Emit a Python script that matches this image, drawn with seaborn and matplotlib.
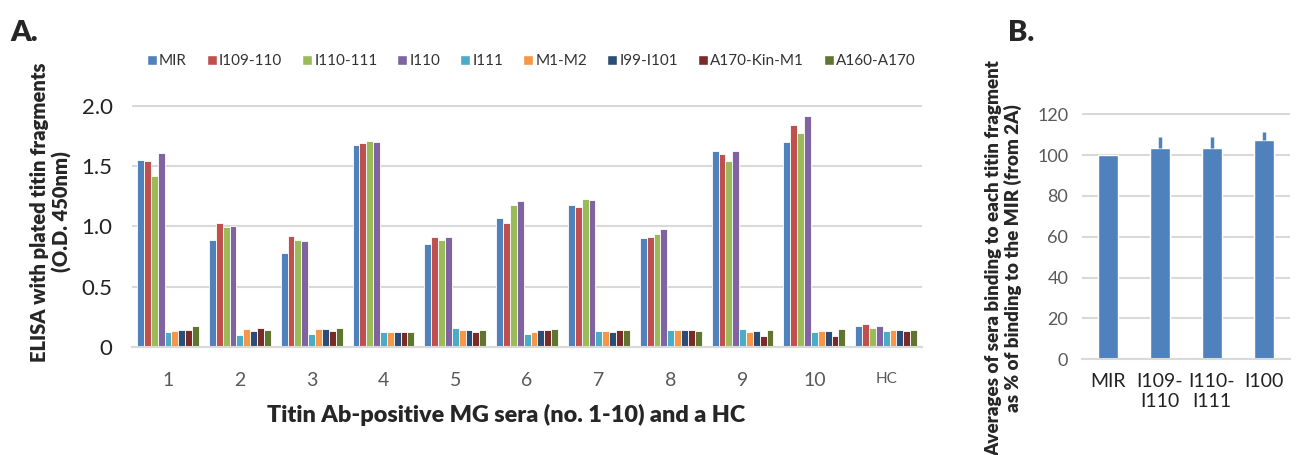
import numpy as np
import pandas as pd
import seaborn as sb
from matplotlib import pyplot as plt
from matplotlib.patches import Patch

sb.set_style('white')
plt.rcParams['font.family'] = ['Lato', 'DejaVu Sans']

# panel A data: ELISA O.D. 450nm
sera = ['1', '2', '3', '4', '5', '6', '7', '8', '9', '10', 'HC']
fragments = ['MIR', 'I109-110', 'I110-111', 'I110', 'I111', 'M1-M2',
             'I99-I101', 'A170-Kin-M1', 'A160-A170']
od = {
    'MIR':         [1.55, 0.89, 0.78, 1.67, 0.85, 1.07, 1.18, 0.90, 1.62, 1.70, 0.17],
    'I109-110':    [1.54, 1.03, 0.92, 1.69, 0.91, 1.03, 1.16, 0.91, 1.60, 1.84, 0.19],
    'I110-111':    [1.42, 0.99, 0.89, 1.71, 0.89, 1.18, 1.23, 0.94, 1.54, 1.77, 0.16],
    'I110':        [1.61, 1.00, 0.88, 1.70, 0.91, 1.21, 1.22, 0.98, 1.62, 1.91, 0.17],
    'I111':        [0.12, 0.10, 0.11, 0.12, 0.16, 0.11, 0.13, 0.14, 0.15, 0.12, 0.13],
    'M1-M2':       [0.13, 0.15, 0.15, 0.12, 0.14, 0.12, 0.13, 0.14, 0.12, 0.13, 0.14],
    'I99-I101':    [0.14, 0.13, 0.15, 0.12, 0.14, 0.14, 0.12, 0.14, 0.13, 0.13, 0.14],
    'A170-Kin-M1': [0.14, 0.16, 0.13, 0.12, 0.12, 0.14, 0.14, 0.14, 0.09, 0.09, 0.13],
    'A160-A170':   [0.17, 0.14, 0.16, 0.12, 0.14, 0.15, 0.14, 0.13, 0.14, 0.15, 0.14],
}
colours = ['#4F81BD', '#C0504D', '#9BBB59', '#8064A2', '#4BACC6', '#F79646',
           '#2C4D75', '#772C2A', '#5F7530']

# panel B data: % of MIR binding, with upper error
b_labels = ['MIR', 'I109-\nI110', 'I110-\nI111', 'I100']
b_mean = [100, 103.7, 103.7, 107.5]
b_err = [0, 5.3, 5.3, 4.0]

long = pd.DataFrame([(s, f, od[f][i]) for f in fragments for i, s in enumerate(sera)],
                    columns=['serum', 'fragment', 'od'])

fig = plt.figure(figsize=(12.96, 4.55), dpi=100)
grid = '#D9D9D9'
tickgrey = '#595959'

## PANEL A
axA = fig.add_axes([0.1019, 0.2374, 0.6096, 0.5319])
sb.barplot(data=long, x='serum', y='od', hue='fragment', order=sera,
           hue_order=fragments, palette=colours, width=0.86, saturation=1,
           edgecolor='white', linewidth=0.6, legend=False, ax=axA)
axA.set_ylim(0, 2.005)
axA.set_yticks([0, 0.5, 1.0, 1.5, 2.0])
axA.set_yticklabels(['0', '0.5', '1.0', '1.5', '2.0'])
axA.yaxis.grid(True, color=grid, linewidth=1.5)
axA.set_axisbelow(True)
for s in ['top', 'right', 'left']:
    axA.spines[s].set_visible(False)
axA.spines['bottom'].set_color(grid)
axA.spines['bottom'].set_linewidth(1.5)
axA.set_xticks(np.arange(-0.5, 11, 1), minor=True)
axA.tick_params(axis='x', which='minor', length=9, color=grid, width=1.5)
axA.tick_params(axis='x', which='major', length=0, pad=18, labelsize=14,
                labelcolor=tickgrey)
axA.tick_params(axis='y', length=0, pad=14, labelsize=16, labelcolor='#222222')
axA.get_xticklabels()[-1].set_fontsize(11)
axA.set_xlabel('')
axA.set_ylabel('')
axA.set_xlim(-0.5, 10.5)

fig.text(51/1296, 1-212/455, 'ELISA with plated titin fragments\n(O.D. 450nm)',
         rotation=90, ha='center', va='center', multialignment='center',
         fontsize=14.5, fontweight='heavy', linespacing=1.15)
fig.text(506/1296, 1-415/455, 'Titin Ab-positive MG sera (no. 1-10) and a HC',
         ha='center', va='center', fontsize=16.8, fontweight='heavy')
fig.text(10/1296, 1-33/455, 'A.', fontsize=21, fontweight='heavy', va='center')

handles = [Patch(facecolor=c, label=f) for f, c in zip(fragments, colours)]
fig.legend(handles=handles, loc='center left', bbox_to_anchor=(133/1296, 1-61/455),
           ncol=9, frameon=False, fontsize=11, handlelength=0.65, handleheight=0.65,
           handletextpad=0.15, columnspacing=1.3, labelcolor='#333333')

## PANEL B
axB = fig.add_axes([0.8349, 0.2103, 0.1605, 0.5407])
sb.barplot(x=b_labels, y=b_mean, color='#4F81BD', saturation=1, width=0.4, ax=axB)
axB.errorbar(range(4), b_mean, yerr=[[0]*4, b_err], fmt='none',
             ecolor='#4F81BD', elinewidth=2.5, capsize=0)
axB.set_ylim(0, 120.5)
axB.set_yticks(range(0, 121, 20))
axB.yaxis.grid(True, color=grid, linewidth=1.5)
axB.set_axisbelow(True)
for s in ['top', 'right', 'left']:
    axB.spines[s].set_visible(False)
axB.spines['bottom'].set_color(grid)
axB.spines['bottom'].set_linewidth(1.5)
axB.tick_params(axis='y', length=0, pad=10, labelsize=13, labelcolor=tickgrey)
axB.tick_params(axis='x', length=0, pad=10, labelsize=14, labelcolor='#222222')
axB.set_xlim(-0.5, 3.5)

fig.text(1004/1296, 1-258/455,
         'Averages of sera binding to each titin fragment\nas % of binding to the MIR (from 2A)',
         rotation=90, ha='center', va='center', multialignment='center',
         fontsize=13.5, fontweight='heavy', linespacing=1.1)
fig.text(1008/1296, 1-33/455, 'B.', fontsize=21, fontweight='heavy', va='center')

fig.savefig('out.png', dpi=100)
